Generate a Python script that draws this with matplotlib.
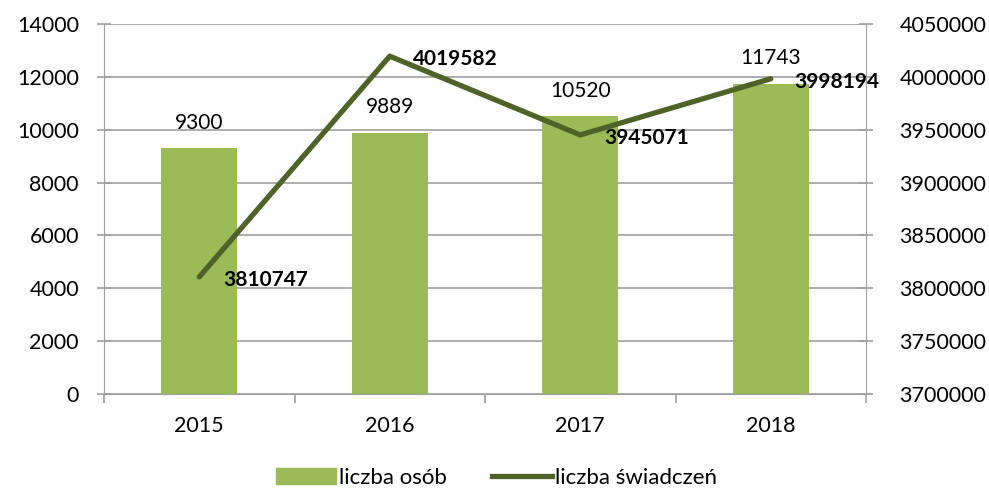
import matplotlib
matplotlib.use("Agg")
import matplotlib.pyplot as plt
from matplotlib.lines import Line2D
from matplotlib.patches import Patch
from matplotlib.ticker import FuncFormatter

years = ["2015", "2016", "2017", "2018"]
persons = [9300, 9889, 10520, 11743]
benefits = [3810747, 4019582, 3945071, 3998194]

plt.rcParams['font.family'] = ['Lato', 'DejaVu Sans']

bar_color = "#9BBB59"
line_color = "#4F6228"
grid_color = "#A0A0A0"

fig = plt.figure(figsize=(9.89, 4.94), dpi=100)
ax = fig.add_axes([104/989, 1-394/494, (866-104)/989, (394-24)/494])
ax2 = ax.twinx()

x = list(range(len(years)))
ax.bar(x, persons, width=0.4, color=bar_color, zorder=2)
ax.set_xlim(-0.5, 3.5)
ax.set_ylim(0, 14000)
ax.set_yticks(range(0, 14001, 2000))
ax.yaxis.grid(True, color=grid_color, linewidth=1.2, zorder=0)
ax.set_axisbelow(True)
ax.set_xticks(x)
ax.set_xticklabels(years)
for xi, v in zip(x, persons):
    ax.annotate(str(v), (xi, v), xytext=(0, 11), textcoords="offset points",
                ha="center", va="bottom", fontsize=15)

ax2.plot(x, benefits, color=line_color, linewidth=3.8, solid_capstyle="round", zorder=3)
ax2.set_ylim(3700000, 4050000)
ax2.set_yticks(range(3700000, 4050001, 50000))
ax2.yaxis.set_major_formatter(FuncFormatter(lambda v, p: f"{int(round(v))}"))
for xi, v in zip(x, benefits):
    ax2.annotate(str(v), (xi, v), xytext=(17, -2), textcoords="offset points",
                 ha="left", va="center", fontsize=15, fontweight="bold")

for a in (ax, ax2):
    for s in a.spines.values():
        s.set_visible(False)
    a.tick_params(labelsize=15.5, colors="black", length=0, pad=10)

ax.spines['left'].set_visible(True)
ax.spines['left'].set_color(grid_color)
ax.spines['bottom'].set_visible(True)
ax.spines['bottom'].set_color(grid_color)
ax2.spines['right'].set_visible(True)
ax2.spines['right'].set_color(grid_color)
ax.tick_params(axis='y', length=10, width=1.2, color=grid_color, direction='inout', pad=13)
ax2.tick_params(axis='y', length=10, width=1.2, color=grid_color, direction='inout', pad=19)
ax.tick_params(axis='x', which='major', length=0, pad=16)
ax.set_xticks([-0.5, 0.5, 1.5, 2.5, 3.5], minor=True)
ax.tick_params(axis='x', which='minor', length=6.5, width=1.2, color=grid_color, direction='out')

handles = [Patch(color=bar_color, label="liczba osób"),
           Line2D([0], [0], color=line_color, linewidth=3.8, label="liczba świadczeń")]
fig.legend(handles=handles, loc="center", bbox_to_anchor=(0.502, 1-478/494), ncol=2,
           frameon=False, fontsize=16, handlelength=2.7, handletextpad=0.15, columnspacing=2.0)

fig.savefig("out.png", dpi=100)
